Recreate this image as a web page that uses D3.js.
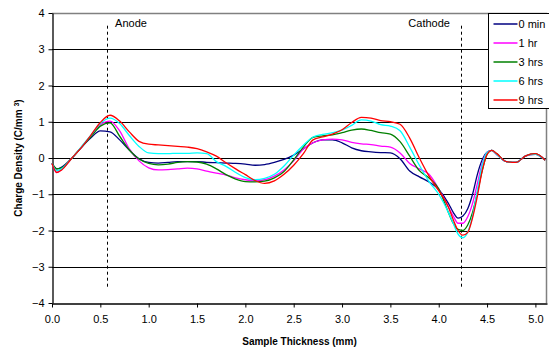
<!DOCTYPE html>
<html>
<head>
<meta charset="utf-8">
<script src="https://cdn.jsdelivr.net/npm/d3@7"></script>
<style>
  body { margin: 0; background: #fff; }
  svg { display: block; font-family: "Liberation Sans", Arial, sans-serif; }
</style>
</head>
<body>
<div id="chart"></div>
<script>
// sample positions (mm)
const thickness = [0, 0.05, 0.1, 0.2, 0.3, 0.4, 0.5, 0.6, 0.7, 0.8, 0.9, 1.0, 1.1, 1.2, 1.3, 1.4, 1.5,
  1.6, 1.7, 1.8, 1.9, 2.0, 2.1, 2.2, 2.3, 2.4, 2.5, 2.6, 2.7, 2.8, 2.9, 3.0, 3.1, 3.2, 3.3, 3.4, 3.5,
  3.6, 3.7, 3.8, 3.9, 4.0, 4.1, 4.15, 4.2, 4.25, 4.3, 4.35, 4.4, 4.45, 4.5, 4.55, 4.6, 4.7, 4.8, 4.9, 5.0, 5.1]

const min0 = [-0.15, -0.3, -0.25, -0.02, 0.28, 0.55, 0.75, 0.72, 0.5, 0.22, -0.02, -0.12, -0.14, -0.12, -0.1, -0.1, -0.1,
  -0.12, -0.13, -0.14, -0.15, -0.17, -0.2, -0.18, -0.12, -0.04, 0.08, 0.25, 0.42, 0.5, 0.5, 0.42, 0.28, 0.2, 0.17, 0.15, 0.14,
  -0.02, -0.36, -0.52, -0.66, -0.87, -1.25, -1.5, -1.66, -1.6, -1.4, -1.0, -0.45, -0.05, 0.16, 0.21, 0.1, -0.1, -0.12, 0.06, 0.1, -0.06]
const hr1 = [-0.15, -0.4, -0.32, -0.02, 0.28, 0.6, 0.92, 1.02, 0.75, 0.25, -0.08, -0.27, -0.33, -0.32, -0.3, -0.28, -0.3,
  -0.36, -0.42, -0.47, -0.55, -0.6, -0.63, -0.6, -0.5, -0.33, -0.08, 0.25, 0.42, 0.5, 0.52, 0.5, 0.43, 0.39, 0.37, 0.33, 0.3,
  0.14, -0.15, -0.3, -0.45, -0.85, -1.35, -1.6, -1.8, -1.8, -1.62, -1.25, -0.7, -0.15, 0.15, 0.21, 0.1, -0.1, -0.12, 0.06, 0.11, -0.06]
const hrs3 = [-0.15, -0.3, -0.27, -0.02, 0.28, 0.58, 0.88, 0.97, 0.6, 0.22, -0.03, -0.15, -0.19, -0.17, -0.12, -0.1, -0.11,
  -0.17, -0.3, -0.46, -0.58, -0.65, -0.66, -0.64, -0.55, -0.37, -0.05, 0.3, 0.57, 0.61, 0.64, 0.7, 0.77, 0.8, 0.76, 0.7, 0.66,
  0.45, 0.05, -0.35, -0.55, -0.85, -1.5, -1.8, -1.97, -2.0, -1.85, -1.5, -0.95, -0.35, 0.1, 0.21, 0.12, -0.1, -0.12, 0.06, 0.12, -0.06]
const hrs6 = [-0.15, -0.35, -0.3, -0.02, 0.3, 0.62, 0.95, 1.1, 0.95, 0.62, 0.32, 0.14, 0.12, 0.12, 0.13, 0.13, 0.14,
  0.12, -0.1, -0.23, -0.4, -0.54, -0.6, -0.56, -0.45, -0.22, 0.08, 0.35, 0.58, 0.65, 0.7, 0.77, 0.9, 1.05, 1.02, 0.92, 0.88,
  0.75, 0.3, -0.2, -0.65, -1.0, -1.5, -1.8, -2.1, -2.2, -2.05, -1.6, -0.9, -0.2, 0.15, 0.21, 0.1, -0.1, -0.12, 0.06, 0.1, -0.06]
const hrs9 = [-0.15, -0.4, -0.33, -0.02, 0.28, 0.62, 0.98, 1.18, 1.02, 0.72, 0.46, 0.38, 0.36, 0.34, 0.32, 0.3, 0.26,
  0.17, 0.05, -0.13, -0.3, -0.46, -0.62, -0.7, -0.63, -0.45, -0.2, 0.12, 0.5, 0.58, 0.66, 0.78, 0.98, 1.12, 1.1, 1.03, 1.0,
  0.93, 0.55, 0.0, -0.5, -0.9, -1.35, -1.7, -2.0, -2.13, -2.05, -1.65, -1.05, -0.35, 0.1, 0.21, 0.12, -0.1, -0.12, 0.06, 0.12, -0.06]

const seriesNames = ['0 min', '1 hr', '3 hrs', '6 hrs', '9 hrs']
const seriesValues = [min0, hr1, hrs3, hrs6, hrs9]
const seriesColors = ['#000080', '#ff00ff', '#008000', '#00ffff', '#ff0000']

const xTicks = [0, 0.5, 1.0, 1.5, 2.0, 2.5, 3.0, 3.5, 4.0, 4.5, 5.0]
const yTicks = [-4, -3, -2, -1, 0, 1, 2, 3, 4]

// electrode markers
const markers = [{ label: 'Anode', x: 0.57 }, { label: 'Cathode', x: 4.23 }]

const W = 549, H = 353
const margin = { top: 13, right: 2, bottom: 50, left: 52 }

const svg = d3.select('#chart').append('svg')
  .attr('width', W)
  .attr('height', H)

const x = d3.scaleLinear().domain([0, 5.12]).range([margin.left, W - margin.right])
const y = d3.scaleLinear().domain([-4, 4]).range([H - margin.bottom, margin.top])

// grid
svg.append('g')
  .selectAll('line')
  .data(yTicks.filter(d => d > -4 && d < 4))
  .join('line')
  .attr('x1', x(0)).attr('x2', x.range()[1])
  .attr('y1', d => Math.round(y(d)) + 0.5).attr('y2', d => Math.round(y(d)) + 0.5)
  .attr('stroke', '#000')
  .attr('stroke-width', 1)

// plot frame, top and right in grey
svg.append('path')
  .attr('d', `M${x(0)},${Math.round(y(4)) + 0.5}H${Math.round(x.range()[1]) - 0.5}V${Math.round(y(-4))}`)
  .attr('fill', 'none')
  .attr('stroke', '#808080')
  .attr('stroke-width', 1.5)

// axes
const xAxis = svg.append('g')
  .attr('transform', `translate(0,${Math.round(y(-4)) + 0.5})`)
  .call(d3.axisBottom(x).tickValues(xTicks).tickFormat(d3.format('.1f')).tickSize(4).tickSizeOuter(0))
const yAxis = svg.append('g')
  .attr('transform', `translate(${Math.round(x(0)) + 0.5},0)`)
  .call(d3.axisLeft(y).tickValues(yTicks).tickFormat(d3.format('d')).tickSize(4).tickSizeOuter(0))

for (const ax of [xAxis, yAxis]) {
  ax.selectAll('.domain').attr('stroke', '#000').attr('stroke-width', 1.3)
  ax.selectAll('.tick line').attr('stroke', '#000')
  ax.selectAll('.tick text')
    .attr('fill', '#000')
    .style('font-size', '11px')
    .style('font-family', '"Liberation Sans", Arial, sans-serif')
}
xAxis.selectAll('.tick text').attr('dy', '0.71em').attr('y', 12)
yAxis.selectAll('.tick text').attr('x', -8)

// dashed electrode lines
const mk = svg.append('g')
mk.selectAll('line')
  .data(markers)
  .join('line')
  .attr('x1', d => Math.round(x(d.x)) + 0.5).attr('x2', d => Math.round(x(d.x)) + 0.5)
  .attr('y1', y(3.65)).attr('y2', y(-3.6))
  .attr('stroke', '#000')
  .attr('stroke-width', 1)
  .attr('stroke-dasharray', '3,3')
mk.selectAll('text')
  .data(markers)
  .join('text')
  .attr('x', d => d.label === 'Anode' ? x(d.x) + 8 : x(d.x) - 11)
  .attr('y', y(3.6) - 1)
  .attr('text-anchor', d => d.label === 'Anode' ? 'start' : 'end')
  .style('font-size', '11px')
  .text(d => d.label)

// curves
const line = d3.line()
  .x(d => x(d[0]))
  .y(d => y(d[1]))
  .curve(d3.curveMonotoneX)

svg.append('g')
  .selectAll('path')
  .data(seriesValues)
  .join('path')
  .attr('d', vals => line(thickness.map((t, i) => [t, vals[i]])))
  .attr('fill', 'none')
  .attr('stroke', (d, i) => seriesColors[i])
  .attr('stroke-width', 1.3)

// axis titles
svg.append('text')
  .attr('x', (x(0) + x.range()[1]) / 2)
  .attr('y', 345)
  .attr('text-anchor', 'middle')
  .style('font-size', '10px')
  .style('font-weight', 'bold')
  .text('Sample Thickness (mm)')

const yt = svg.append('text')
  .attr('transform', `translate(22,${y(0)}) rotate(-90)`)
  .attr('text-anchor', 'middle')
  .style('font-size', '10px')
  .style('font-weight', 'bold')
yt.append('tspan').text('Charge Density (C/mm ')
yt.append('tspan').attr('baseline-shift', 'super').style('font-size', '7px').text('3')
yt.append('tspan').text(')')

// legend
const lg = svg.append('g').attr('transform', `translate(488.5,${Math.round(y(4)) + 0.5})`)
lg.append('rect')
  .attr('width', 70).attr('height', 95)
  .attr('fill', '#fff')
  .attr('stroke', '#000')
  .attr('stroke-width', 1)
const items = lg.selectAll('g')
  .data(seriesNames)
  .join('g')
  .attr('transform', (d, i) => `translate(0,${10.5 + i * 19})`)
items.append('line')
  .attr('x1', 5).attr('x2', 29)
  .attr('stroke', (d, i) => seriesColors[i])
  .attr('stroke-width', 1.5)
items.append('text')
  .attr('x', 30)
  .attr('dy', '0.35em')
  .style('font-size', '11px')
  .text(d => d)
</script>
</body>
</html>
